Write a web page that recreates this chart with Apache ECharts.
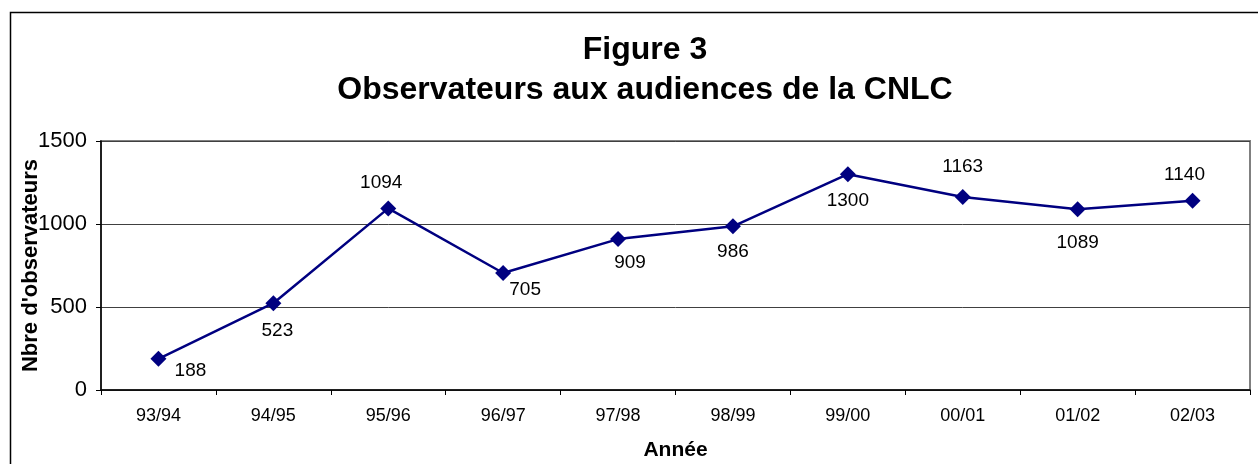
<!DOCTYPE html>
<html>
<head>
<meta charset="utf-8">
<script src="https://cdn.jsdelivr.net/npm/echarts@6/dist/echarts.min.js"></script>
<style>
  html, body { margin: 0; padding: 0; background: #fff; }
  #chart { width: 1258px; height: 464px; }
</style>
</head>
<body>
<div id="chart"></div>
<script>
const years = ["93/94", "94/95", "95/96", "96/97", "97/98", "98/99", "99/00", "00/01", "01/02", "02/03"];
const observers = [188, 523, 1094, 705, 909, 986, 1300, 1163, 1089, 1140];
const yTicks = [0, 500, 1000, 1500];

// where each value label sits relative to its point (like the Excel original)
const labelOffsets = [[32, 12], [4, 28], [-7, -26], [22, 17], [12, 24], [0, 25], [0, 27], [0, -30], [0, 34], [-8, -26]];

const font = "'Liberation Sans', Arial, sans-serif";
const chart = echarts.init(document.getElementById("chart"));

chart.setOption({
  animation: false,
  backgroundColor: "#fff",
  textStyle: { fontFamily: font },
  title: {
    text: "Figure 3\nObservateurs aux audiences de la CNLC",
    left: 640,
    top: 25,
    textAlign: "center",
    textStyle: { fontSize: 32, fontWeight: "bold", color: "#000", lineHeight: 40, fontFamily: font },
  },
  graphic: [
    {
      type: "rect",
      shape: { x: 10.5, y: 12.5, width: 1300, height: 500 },
      style: { fill: "none", stroke: "#000", lineWidth: 1.5 },
      silent: true,
    },
  ],
  grid: {
    left: 101,
    right: 8,
    top: 141,
    bottom: 74,
    outerBoundsMode: "none",
    show: true,
    borderColor: "#808080",
    borderWidth: 2,
  },
  xAxis: {
    type: "category",
    data: years,
    boundaryGap: true,
    name: "Année",
    nameLocation: "middle",
    nameGap: 50,
    nameMoveOverlap: false,
    nameTextStyle: { fontSize: 21, fontWeight: "bold", color: "#000", fontFamily: font },
    axisLine: { lineStyle: { color: "#000", width: 1.5 } },
    axisTick: { show: true, length: 5, inside: false, lineStyle: { color: "#000" } },
    axisLabel: { fontSize: 18, color: "#000", margin: 17, fontFamily: font },
  },
  yAxis: {
    type: "value",
    min: yTicks[0],
    max: yTicks[yTicks.length - 1],
    interval: 500,
    name: "Nbre d'observateurs",
    nameLocation: "middle",
    nameGap: 59,
    nameMoveOverlap: false,
    nameTextStyle: { fontSize: 22, fontWeight: "bold", color: "#000", fontFamily: font },
    axisLine: { show: true, lineStyle: { color: "#000", width: 1.5 } },
    axisTick: { show: true, length: 5, lineStyle: { color: "#000" } },
    axisLabel: { fontSize: 22, color: "#000", margin: 14, fontFamily: font, formatter: (v) => String(v) },
    splitLine: { show: true, lineStyle: { color: "#404040", width: 1 } },
  },
  series: [
    {
      name: "Observateurs",
      type: "line",
      data: observers.map((v, i) => ({
        value: v,
        label: { offset: labelOffsets[i] },
      })),
      symbol: "diamond",
      symbolSize: 16,
      lineStyle: { color: "#000080", width: 2.5 },
      itemStyle: { color: "#000080" },
      label: {
        show: true,
        position: "inside",
        fontSize: 19,
        color: "#000",
        fontFamily: font,
      },
    },
  ],
});
</script>
</body>
</html>
